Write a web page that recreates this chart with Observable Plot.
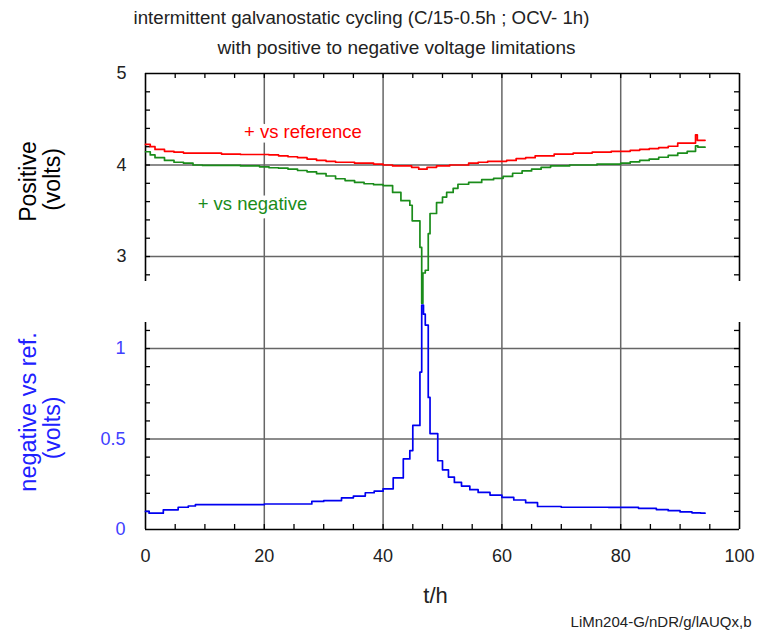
<!DOCTYPE html>
<html><head><meta charset="utf-8">
<script src="https://cdn.jsdelivr.net/npm/d3@7"></script>
<script src="https://cdn.jsdelivr.net/npm/@observablehq/plot@0.6"></script>
<style>
body{margin:0;background:#fff}
#chart{position:relative;width:760px;height:637px}
#chart svg{position:absolute;left:0;top:0}
</style>
</head><body><div id="chart"></div>
<script>
// ---- data: [t (h), volts], step curves (intermittent galvanostatic cycling)
const posVsRef = [[0,4.225],[0.8,4.20],[1.6,4.17],[3.2,4.15],[4.8,4.14],[6.4,4.13],[9.6,4.13],[12.8,4.12],[16,4.115],[20.8,4.11],[22.4,4.10],[24,4.09],[25.6,4.08],[27.2,4.065],[28.8,4.05],[30.4,4.04],[32,4.03],[35.2,4.02],[38.4,4.01],[40,4.0],[41.6,3.99],[44.8,3.975],[46,3.955],[47.4,3.975],[49,3.99],[51.2,4.0],[54.4,4.02],[56,4.03],[57.6,4.04],[60.8,4.05],[62.4,4.07],[64,4.08],[65.6,4.10],[68.8,4.12],[72,4.13],[75.2,4.14],[78.4,4.15],[81.6,4.16],[83.2,4.17],[84.8,4.18],[86.4,4.19],[88,4.205],[89.6,4.24],[92.6,4.33],[92.9,4.27],[94.2,4.27]];
const posVsNeg = [[0,4.145],[0.8,4.11],[1.6,4.08],[3.2,4.05],[4.8,4.03],[6.4,4.02],[8,4.0],[9.6,3.995],[16,3.99],[19.2,3.98],[20.8,3.97],[22.4,3.965],[24,3.955],[25.6,3.94],[27.2,3.925],[28.8,3.905],[30.4,3.88],[32,3.85],[33.6,3.83],[35.2,3.81],[36.8,3.795],[38.4,3.785],[40,3.775],[41.6,3.70],[43,3.61],[44.5,3.56],[44.9,3.39],[46.2,3.10],[46.5,2.49],[46.7,2.82],[47.1,2.85],[47.6,3.25],[47.9,3.47],[49,3.59],[50,3.65],[50.7,3.70],[51.8,3.745],[52.6,3.79],[54.4,3.81],[56.6,3.84],[58.6,3.855],[60.2,3.875],[61.8,3.91],[63.4,3.935],[65,3.955],[66.6,3.975],[68.2,3.99],[71.4,4.0],[76,4.01],[80,4.02],[81.6,4.035],[83.2,4.05],[84.8,4.065],[86.4,4.085],[88,4.105],[89.6,4.13],[91.2,4.15],[92.6,4.21],[93,4.195],[94.2,4.195]];
const negVsRef = [[0,0.10],[0.6,0.09],[3,0.109],[5.5,0.123],[7.2,0.13],[8.4,0.137],[20,0.141],[28,0.155],[30,0.16],[33,0.175],[35,0.185],[37,0.203],[38.5,0.212],[40,0.225],[41.7,0.285],[43.4,0.39],[44.5,0.436],[45,0.575],[46.2,0.87],[46.5,1.24],[46.8,1.19],[47.1,1.13],[47.6,0.73],[47.9,0.53],[49.2,0.38],[50,0.33],[51,0.29],[52,0.26],[53.2,0.24],[54.6,0.22],[56,0.205],[58,0.19],[60,0.177],[62,0.163],[64,0.148],[66,0.127],[70,0.123],[78,0.122],[83,0.117],[86,0.11],[88,0.104],[90,0.097],[92,0.092],[93.5,0.09],[94.2,0.09]];

// ---- axes / ticks
const xDomain = [0, 100];
const topDomain = [2.727, 5];
const bottomDomain = [0, 1.144];
const xTickLabels = [0, 20, 40, 60, 80, 100];
const xMinorTicks = [5,10,15,20,25,30,35,40,45,50,55,60,65,70,75,80,85,90,95];
const xGrid = [20, 40, 60, 80];
const topTickLabels = [3, 4, 5];
const topMinorTicks = [2.8,3.0,3.2,3.4,3.6,3.8,4.0,4.2,4.4,4.6,4.8];
const topGrid = [3, 4];
const bottomTickLabels = [0, 0.5, 1];
const bottomMinorTicks = [0.1,0.2,0.3,0.4,0.5,0.6,0.7,0.8,0.9,1.0,1.1];
const bottomGrid = [0.5, 1];

// ---- texts
const title1 = "intermittent galvanostatic cycling (C/15-0.5h ; OCV- 1h)";
const title2 = "with positive to negative voltage limitations";
const topTitle = ["Positive", "(volts)"];
const bottomTitle = ["negative vs ref.", "(volts)"];
const xTitle = "t/h";
const caption = "LiMn204-G/nDR/g/lAUQx,b";
const curveLabels = [
  {text: "+ vs reference", t: 26.5, v: 4.355},
  {text: "+ vs negative", t: 18.0, v: 3.57}
];

const FONT = "'Liberation Sans', Arial, Helvetica, sans-serif";
const GRID = "#666", INK = "#222";
const RED = "#ff0000", GREEN = "#1a8c1a", BLUE = "#0000f0", BLUE_TXT = "#4040ff";
const W = 760, H = 637, ML = 145, MR = 21;
const svgStyle = {fontFamily: FONT, background: "transparent", overflow: "visible"};
const TICK_FS = 18;

// ---------- bottom panel (negative vs ref.)
const bottomPlot = Plot.plot({
  width: W, height: H,
  marginLeft: ML, marginRight: MR, marginTop: 322, marginBottom: H - 529,
  x: {domain: xDomain, axis: null},
  y: {domain: bottomDomain, axis: null},
  style: svgStyle,
  marks: [
    Plot.ruleX(xGrid, {x: d => d, stroke: GRID, strokeWidth: 1.5, insetTop: -(322 - 73)}),
    Plot.ruleY(bottomGrid, {y: d => d, stroke: GRID, strokeWidth: 1.5}),
    Plot.ruleY([0], {y: d => d, stroke: "#000", strokeWidth: 1.6}),
    Plot.ruleX(xDomain, {x: d => d, stroke: "#000", strokeWidth: 1.6}),
    Plot.ruleX(xMinorTicks, {x: d => d, y1: 0, y2: 0, insetTop: -5, stroke: "#000", strokeWidth: 1.3}),
    Plot.ruleY(bottomMinorTicks, {y: d => d, x1: 0, x2: 0, insetRight: -5, stroke: "#000", strokeWidth: 1.3}),
    Plot.ruleY(bottomMinorTicks, {y: d => d, x1: 100, x2: 100, insetLeft: -5, stroke: "#000", strokeWidth: 1.3}),
    Plot.line(negVsRef, {x: d => d[0], y: d => d[1], curve: "step-after", stroke: BLUE, strokeWidth: 1.7}),
    Plot.text(xTickLabels, {x: d => d, text: d => String(d), frameAnchor: "bottom", lineAnchor: "middle", dy: 27, fontSize: TICK_FS, fill: INK}),
    Plot.text(bottomTickLabels, {y: d => d, text: d => String(d), frameAnchor: "left", textAnchor: "end", dx: -20, fontSize: TICK_FS, fill: BLUE_TXT}),
    Plot.text([bottomTitle[0]], {text: d => d, frameAnchor: "left", textAnchor: "middle", rotate: -90, dx: -117, dy: -14, fontSize: 23.5, fill: "#2020ff"}),
    Plot.text([bottomTitle[1]], {text: d => d, frameAnchor: "left", textAnchor: "middle", rotate: -90, dx: -93, dy: 2, fontSize: 23, fill: "#2020ff"}),
    Plot.text([xTitle], {text: d => d, frameAnchor: "bottom", textAnchor: "middle", lineAnchor: "middle", dx: -7, dy: 66, fontSize: 22, fill: INK}),
    Plot.text([caption], {text: d => d, frameAnchor: "bottom-right", textAnchor: "end", lineAnchor: "middle", dx: 12, dy: 93, fontSize: 15, fill: INK})
  ]
});

// ---------- top panel (positive)
const topPlot = Plot.plot({
  width: W, height: H,
  marginLeft: ML, marginRight: MR, marginTop: 73, marginBottom: H - 281,
  x: {domain: xDomain, axis: null},
  y: {domain: topDomain, axis: null},
  style: svgStyle,
  marks: [
    Plot.ruleY(topGrid, {y: d => d, stroke: GRID, strokeWidth: 1.5}),
    Plot.ruleY([5], {y: d => d, stroke: "#000", strokeWidth: 1.6}),
    Plot.ruleX(xDomain, {x: d => d, stroke: "#000", strokeWidth: 1.6}),
    Plot.ruleX(xMinorTicks, {x: d => d, y1: 5, y2: 5, insetBottom: -5, stroke: "#000", strokeWidth: 1.3}),
    Plot.ruleY(topMinorTicks, {y: d => d, x1: 0, x2: 0, insetRight: -5, stroke: "#000", strokeWidth: 1.3}),
    Plot.ruleY(topMinorTicks, {y: d => d, x1: 100, x2: 100, insetLeft: -5, stroke: "#000", strokeWidth: 1.3}),
    Plot.text(curveLabels, {x: "t", y: "v", text: "text", fontSize: 18.5,
      fill: (d, i) => i === 0 ? RED : GREEN, stroke: "white", strokeWidth: 9}),
    Plot.line(posVsRef, {x: d => d[0], y: d => d[1], curve: "step-after", stroke: RED, strokeWidth: 1.7}),
    Plot.line(posVsNeg, {x: d => d[0], y: d => d[1], curve: "step-after", stroke: GREEN, strokeWidth: 1.7}),
    Plot.text(topTickLabels, {y: d => d, text: d => String(d), frameAnchor: "left", textAnchor: "end", dx: -19, fontSize: TICK_FS, fill: INK}),
    Plot.text([topTitle[0]], {text: d => d, frameAnchor: "left", textAnchor: "middle", rotate: -90, dx: -117, dy: 4, fontSize: 23, fill: "#000"}),
    Plot.text([topTitle[1]], {text: d => d, frameAnchor: "left", textAnchor: "middle", rotate: -90, dx: -93, dy: 2, fontSize: 23, fill: "#000"}),
    Plot.text([title1], {text: d => d, frameAnchor: "top", textAnchor: "middle", lineAnchor: "middle", dx: -81, dy: -55, fontSize: 18.7, fill: INK}),
    Plot.text([title2], {text: d => d, frameAnchor: "top", textAnchor: "middle", lineAnchor: "middle", dx: -46, dy: -26, fontSize: 19, fill: INK})
  ]
});

const chart = document.getElementById("chart");
chart.append(bottomPlot, topPlot);
</script>
</body></html>
